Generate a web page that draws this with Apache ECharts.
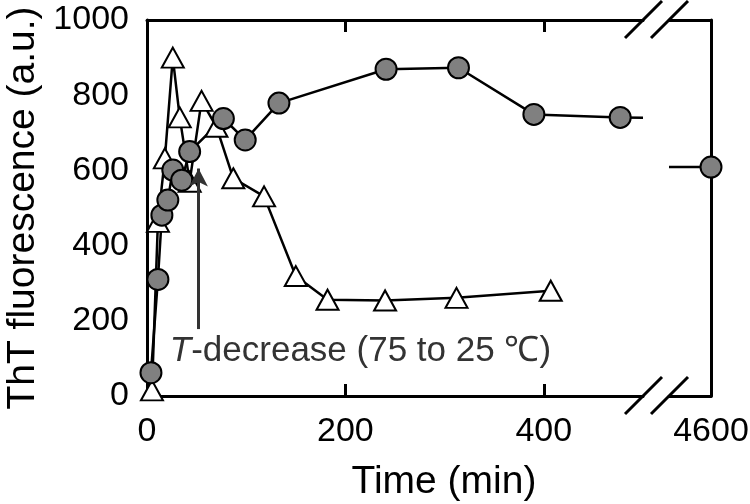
<!DOCTYPE html>
<html><head><meta charset="utf-8">
<script src="https://cdn.jsdelivr.net/npm/echarts@6/dist/echarts.min.js"></script>
<style>html,body{margin:0;padding:0;background:#fff}#c{width:750px;height:504px}</style>
</head><body><div id="c"></div>
<script>
// ---- data ----
const circleTime  = [4, 11, 15, 21, 26, 35, 43, 77, 99, 133, 241, 314, 390, 477];
const circleValue = [62, 310, 481, 521, 601, 574, 650, 738, 681, 779, 869, 873, 749, 741];
const circleLateTime  = [4600];
const circleLateValue = [609];
const triangleTime  = [5, 11, 18, 26, 33, 43, 55, 70, 87, 118, 150, 182, 240, 312, 407];
const triangleValue = [15, 463, 632, 900, 741, 570, 785, 716, 579, 531, 319, 256, 254, 261, 280];
const yTickValues = [0, 200, 400, 600, 800, 1000];
const xLabelsLeft = [0, 200, 400];
const xTicksLeft = [200, 400];
const xLabelsRight = [4600];
const breakStart = 500, breakEnd = 4550;           // broken time axis
const circleTailStub = [[477, 741], [500, 740]];   // line continuing into the break
const circleHeadStub = [[4550, 609], [4600, 609]]; // line coming out of the break
const arrowFrom = [52, 178], arrowTo = [52, 605];
const annotationAt = [23, 120];
const annotationText = '{i|T}-decrease (75 to 25 \u2103)';
const xTitle = 'Time (min)', yTitle = 'ThT fluorescence (a.u.)';

const zip = (a, b) => a.map((v, i) => [v, b[i]]);
const FONT = '"Liberation Sans", Arial, Helvetica, sans-serif';
const plain = v => String(v);
const line3 = { show: true, onZero: false, lineStyle: { color: '#000', width: 3 } };
const TICK_FS = 34;

const chart = echarts.init(document.getElementById('c'), null, { renderer: 'canvas' });
const option = {
  animation: false,
  backgroundColor: '#fff',
  textStyle: { fontFamily: FONT },
  grid: [
    { left: 147, top: 20, width: 496, height: 376, containLabel: false, outerBoundsMode: 'none' },
    { left: 669, top: 20, width: 42, height: 376, containLabel: false, outerBoundsMode: 'none' }
  ],
  xAxis: [
    { gridIndex: 0, type: 'value', position: 'bottom', min: 0, max: breakStart,
      axisLine: line3,
      axisTick: { show: true, inside: true, length: 12, customValues: xTicksLeft, lineStyle: { color: '#000', width: 3 } },
      axisLabel: { customValues: xLabelsLeft, formatter: plain, fontSize: TICK_FS, color: '#000', margin: 19, fontFamily: FONT },
      splitLine: { show: false } },
    { gridIndex: 0, type: 'value', position: 'top', min: 0, max: breakStart,
      axisLine: line3,
      axisTick: { show: true, inside: true, length: 12, customValues: xTicksLeft, lineStyle: { color: '#000', width: 3 } },
      axisLabel: { show: false }, splitLine: { show: false } },
    { gridIndex: 1, type: 'value', position: 'bottom', min: breakEnd, max: 4600,
      axisLine: line3, axisTick: { show: false },
      axisLabel: { customValues: xLabelsRight, formatter: plain, fontSize: TICK_FS, color: '#000', margin: 19, fontFamily: FONT },
      splitLine: { show: false } },
    { gridIndex: 1, type: 'value', position: 'top', min: breakEnd, max: 4600,
      axisLine: line3, axisTick: { show: false }, axisLabel: { show: false }, splitLine: { show: false } }
  ],
  yAxis: [
    { gridIndex: 0, type: 'value', position: 'left', min: 0, max: 1000, interval: 200,
      axisLine: line3, axisTick: { show: false },
      axisLabel: { customValues: yTickValues, formatter: plain, fontSize: TICK_FS, color: '#000', margin: 18, fontFamily: FONT },
      splitLine: { show: false },
      name: yTitle, nameLocation: 'middle', nameGap: 103,
      nameTextStyle: { fontSize: 39, color: '#000', fontFamily: FONT } },
    { gridIndex: 1, type: 'value', position: 'right', min: 0, max: 1000, interval: 200,
      axisLine: line3, axisTick: { show: false }, axisLabel: { show: false }, splitLine: { show: false } }
  ],
  series: [
    { name: 'triangle', type: 'line', xAxisIndex: 0, yAxisIndex: 0, clip: false,
      data: zip(triangleTime, triangleValue),
      symbol: 'triangle', symbolSize: [22, 20], showAllSymbol: true,
      itemStyle: { color: '#fff', borderColor: '#000', borderWidth: 2 },
      lineStyle: { color: '#000', width: 2.5 },
      markLine: { silent: true, symbol: ['none', 'arrow'], symbolSize: [14, 18],
        label: { show: false },
        lineStyle: { color: '#333', width: 3, type: 'solid' },
        data: [[{ coord: arrowFrom }, { coord: arrowTo }]] } },
    { name: 'circleTail', type: 'line', xAxisIndex: 0, yAxisIndex: 0, clip: true,
      data: circleTailStub, symbol: 'none', lineStyle: { color: '#000', width: 2.5 } },
    { name: 'circle', type: 'line', xAxisIndex: 0, yAxisIndex: 0, clip: false,
      data: zip(circleTime, circleValue),
      symbol: 'circle', symbolSize: 21, showAllSymbol: true,
      itemStyle: { color: '#808080', borderColor: '#000', borderWidth: 2 },
      lineStyle: { color: '#000', width: 2.5 } },
    { name: 'circleHead', type: 'line', xAxisIndex: 2, yAxisIndex: 1, clip: false,
      data: circleHeadStub, symbol: 'none', lineStyle: { color: '#000', width: 2.5 } },
    { name: 'circleLate', type: 'line', xAxisIndex: 2, yAxisIndex: 1, clip: false,
      data: zip(circleLateTime, circleLateValue),
      symbol: 'circle', symbolSize: 21, showAllSymbol: true,
      itemStyle: { color: '#808080', borderColor: '#000', borderWidth: 2 },
      lineStyle: { color: '#000', width: 2.5 } }
  ]
};
chart.setOption(option);

// decorations placed through the axes' own scales
const xb1 = chart.convertToPixel({ xAxisIndex: 0 }, breakStart);
const xb2 = chart.convertToPixel({ xAxisIndex: 2 }, breakEnd);
const yTop = chart.convertToPixel({ yAxisIndex: 0 }, 1000);
const yBot = chart.convertToPixel({ yAxisIndex: 0 }, 0);
const ann = chart.convertToPixel({ xAxisIndex: 0, yAxisIndex: 0 }, annotationAt);
const slash = (x, y) => ({ type: 'line', z: 100,
  shape: { x1: x - 18, y1: y + 18, x2: x + 19, y2: y - 19 },
  style: { stroke: '#000', lineWidth: 3 } });
chart.setOption({
  graphic: [
    slash(xb1, yTop), slash(xb2, yTop), slash(xb1, yBot), slash(xb2, yBot),
    { type: 'text', z: 100, x: ann[0], y: ann[1],
      style: { text: annotationText, fill: '#333', fontSize: 35, fontFamily: FONT,
        textAlign: 'left', verticalAlign: 'middle',
        rich: { i: { fontStyle: 'italic', fontSize: 35, fontFamily: FONT, fill: '#333' } } } },
    { type: 'text', z: 100, x: 444, y: 482,
      style: { text: xTitle, fill: '#000', fontSize: 39, fontFamily: FONT,
        textAlign: 'center', verticalAlign: 'middle' } }
  ]
});
</script>
</body></html>
